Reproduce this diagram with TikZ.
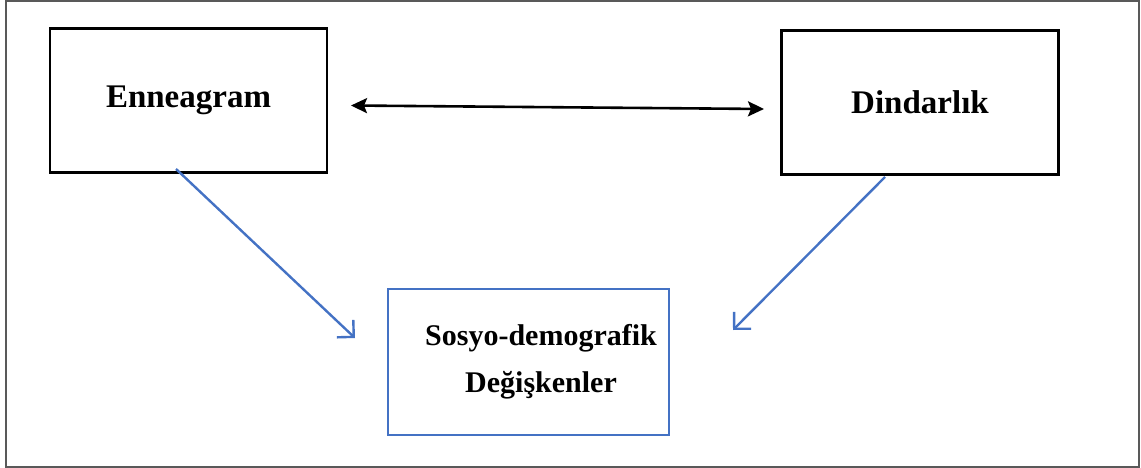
\documentclass[tikz,border=0pt]{standalone}
\usepackage{fontspec}
\setmainfont{Liberation Serif}
\usetikzlibrary{arrows.meta}
\definecolor{arrowblue}{HTML}{4472C4}
\definecolor{framegray}{HTML}{595959}
\tikzset{
  varbox/.style={draw=black, line width=2.6pt, minimum width=277pt, minimum height=144pt,
    inner sep=0pt, font=\fontsize{33}{47}\selectfont\bfseries, align=center},
  bluebox/.style={varbox, draw=arrowblue},
  boxtext/.style={inner sep=0pt, font=\fontsize{30}{47}\selectfont\bfseries, align=center},
  linkarrow/.style={line width=2.6pt, {Stealth[length=16pt,width=15pt,inset=3pt]}-{Stealth[length=16pt,width=15pt,inset=3pt]}},
  bluearrow/.style={draw=arrowblue, line width=2.4pt, -{Straight Barb[length=12pt,width=24pt]}}
}
\begin{document}
\begin{tikzpicture}[x=1pt,y=-1pt]
        \useasboundingbox (0,0) rectangle (1141,468);
        \draw [framegray, line width=2pt] (6,1) rectangle (1139,467);
        \node [varbox] (enneagram) at (188.5,100.5) {Enneagram};
        \node [varbox] (dindarlik) at (920,102.5) {Dindarlık};
        \node [bluebox, minimum width=281pt, minimum height=146pt] (sosyo) at (528.5,362) {};
        \node [boxtext] (sosyoText) at (541,362) {Sosyo-demografik\\Değişkenler};
        \coordinate (linkL) at (351,105.5);
        \coordinate (linkR) at (764,109);
        \coordinate (ennFoot) at (176,169);
        \coordinate (dinFoot) at (885,177);
        \coordinate (sosL) at (355,338);
        \coordinate (sosR) at (733,330);
        \draw [linkarrow] (linkL) -- (linkR);
        \draw [bluearrow] (ennFoot) -- (sosL);
        \draw [bluearrow] (dinFoot) -- (sosR);
    \end{tikzpicture}
\end{document}
